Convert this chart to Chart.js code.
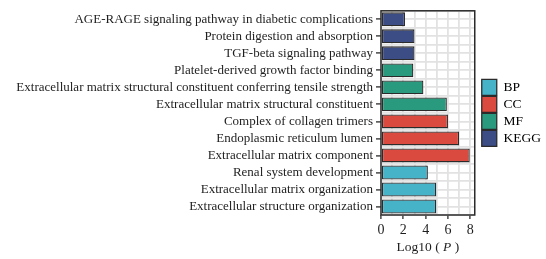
<!DOCTYPE html>
<html>
<head>
<meta charset="utf-8">
<script src="https://cdn.jsdelivr.net/npm/chart.js@4"></script>
<style>
  html, body { margin: 0; padding: 0; background: #fff; }
  #wrap { width: 546px; height: 259px; }
</style>
</head>
<body>
<div id="wrap"><canvas id="goChart"></canvas></div>
<script>
// terms, top to bottom as drawn
const terms = [
  "AGE-RAGE signaling pathway in diabetic complications",
  "Protein digestion and absorption",
  "TGF-beta signaling pathway",
  "Platelet-derived growth factor binding",
  "Extracellular matrix structural constituent conferring tensile strength",
  "Extracellular matrix structural constituent",
  "Complex of collagen trimers",
  "Endoplasmic reticulum lumen",
  "Extracellular matrix component",
  "Renal system development",
  "Extracellular matrix organization",
  "Extracellular structure organization"
];
const logP = [2.15, 3.0, 3.0, 2.9, 3.8, 5.9, 6.0, 7.0, 7.95, 4.2, 4.95, 4.95];
const termGroup = ["KEGG", "KEGG", "KEGG", "MF", "MF", "MF", "CC", "CC", "CC", "BP", "BP", "BP"];

const groups = ["BP", "CC", "MF", "KEGG"];
const groupColors = { BP: "#47b3c9", CC: "#da4a3e", MF: "#2a9a7f", KEGG: "#3c4d86" };

const xTicks = [0, 2, 4, 6, 8];

const FONT = '"Liberation Serif", "Times New Roman", serif';
const edgeColor = "#2b2b2b";
const gridColor = "#e2e2e2";

Chart.defaults.font.family = FONT;
Chart.defaults.color = "#1e1e1e";

// panel border + x title with italic P
const panelExtras = {
  id: "panelExtras",
  afterDraw(chart) {
    const { ctx, chartArea: a } = chart;
    ctx.save();
    ctx.strokeStyle = edgeColor;
    ctx.lineWidth = 1.5;
    ctx.strokeRect(a.left, a.top, a.right - a.left, a.bottom - a.top);

    const parts = [
      { t: "Log10 ( ", f: "13.5px " + FONT },
      { t: "P", f: "italic 13.5px " + FONT },
      { t: " )", f: "13.5px " + FONT }
    ];
    let total = 0;
    parts.forEach(p => { ctx.font = p.f; p.w = ctx.measureText(p.t).width; total += p.w; });
    let x = (a.left + a.right) / 2 - total / 2;
    ctx.fillStyle = "#1e1e1e";
    ctx.textBaseline = "middle";
    ctx.textAlign = "left";
    parts.forEach(p => { ctx.font = p.f; ctx.fillText(p.t, x, 247); x += p.w; });
    ctx.restore();
  }
};

new Chart(document.getElementById("goChart"), {
  type: "bar",
  data: {
    labels: terms,
    datasets: [{
      label: "Log10(P)",
      data: logP,
      backgroundColor: termGroup.map(g => groupColors[g]),
      borderColor: edgeColor,
      borderWidth: 1.3,
      borderSkipped: false,
      categoryPercentage: 1,
      barPercentage: 0.82
    }]
  },
  options: {
    indexAxis: "y",
    responsive: true,
    maintainAspectRatio: false,
    animation: false,
    layout: { padding: { top: 9, right: -5, bottom: 0, left: 0 } },
    plugins: {
      tooltip: { enabled: false },
      legend: {
        position: "right",
        align: "center",
        fullSize: false,
        labels: {
          boxWidth: 15,
          boxHeight: 16,
          padding: 1,
          font: { size: 13.5, family: FONT },
          color: "#1e1e1e",
          generateLabels: () => groups.map(g => ({
            text: g,
            fillStyle: groupColors[g],
            strokeStyle: edgeColor,
            lineWidth: 1.3,
            hidden: false
          }))
        }
      }
    },
    scales: {
      x: {
        type: "linear",
        min: 0,
        max: 8.4,
        afterFit: s => { s.height = 44; },
        border: { display: false },
        grid: {
          color: gridColor,
          lineWidth: 1.8,
          tickLength: 4,
          tickWidth: 1.3,
          tickColor: c => xTicks.includes(c.tick.value) ? edgeColor : "rgba(0,0,0,0)"
        },
        ticks: {
          stepSize: 1,
          includeBounds: false,
          padding: 3,
          autoSkip: false,
          maxRotation: 0,
          minRotation: 0,
          font: { size: 14, family: FONT },
          callback: v => xTicks.includes(v) ? v : ""
        }
      },
      y: {
        afterFit: s => { s.width = 381; },
        border: { display: false },
        grid: {
          offset: false,
          color: gridColor,
          lineWidth: 1.8,
          tickLength: 5,
          tickWidth: 1.3,
          tickColor: edgeColor
        },
        ticks: { padding: 3, autoSkip: false, font: { size: 13, family: FONT } }
      },
      y2: {
        type: "category",
        position: "right",
        labels: terms,
        offset: true,
        afterFit: s => { s.width = 6; },
        border: { display: false },
        grid: { offset: true, color: gridColor, lineWidth: 1.8, drawTicks: false },
        ticks: { display: false }
      }
    }
  },
  plugins: [panelExtras]
});
</script>
</body>
</html>
